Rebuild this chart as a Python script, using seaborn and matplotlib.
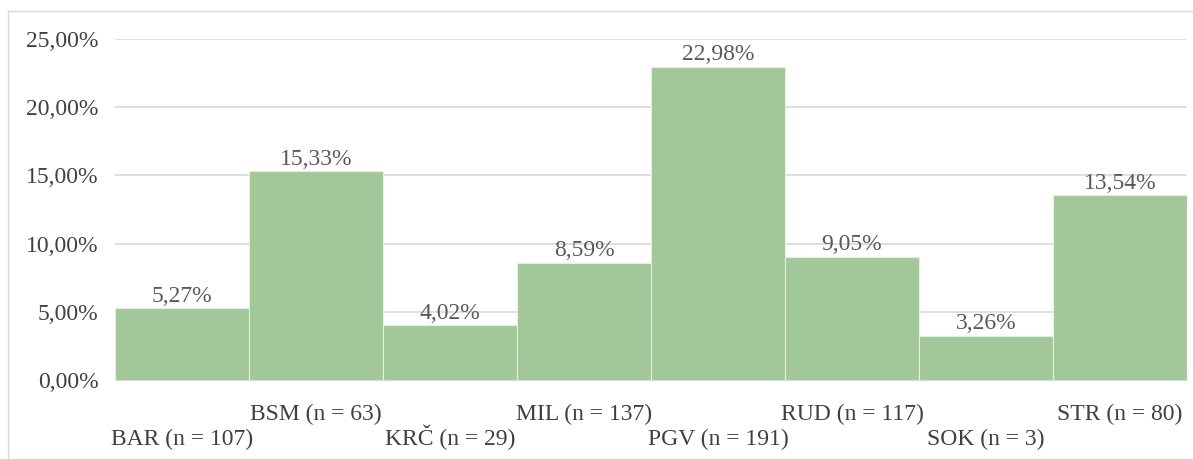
import pandas as pd
import matplotlib.pyplot as plt
import seaborn as sns
from matplotlib.patches import Rectangle

# データ
categories = ['BAR (n = 107)', 'BSM (n = 63)', 'KRČ (n = 29)', 'MIL (n = 137)',
              'PGV (n = 191)', 'RUD (n = 117)', 'SOK (n = 3)', 'STR (n = 80)']
percent = [5.27, 15.33, 4.02, 8.59, 22.98, 9.05, 3.26, 13.54]

df = pd.DataFrame({'cat': categories, 'pct': percent})

sns.set_style('white')
plt.rcParams['font.family'] = ['Liberation Serif', 'DejaVu Serif']
tick_col = '#404040'
val_col = '#595959'
fs = 17

fig = plt.figure(figsize=(11.93, 4.59), dpi=100)
ax = fig.add_axes([115 / 1193, 1 - 380 / 459, (1187 - 115) / 1193, (380 - 39) / 459])

# 外枠
fig.patches.append(Rectangle((8 / 1193, -0.1), 1.2, 1 - 11 / 459 + 0.1,
                             transform=fig.transFigure, fill=False,
                             edgecolor='#d9d9d9', linewidth=1.0))

sns.barplot(data=df, x='cat', y='pct', color='#a2c799', width=1.0,
            edgecolor='#e6f0e2', linewidth=0.8, saturation=1, ax=ax)

ax.set_ylim(0, 25)
ax.set_xlim(-0.5, len(categories) - 0.5)
ax.set_yticks([0, 5, 10, 15, 20, 25])
ax.set_yticklabels([f'{v:.2f}%'.replace('.', ',') for v in [0, 5, 10, 15, 20, 25]])
ax.grid(axis='y', color='#d9d9d9', linewidth=1.2)
ax.set_axisbelow(True)
for s in ['left', 'right', 'top']:
    ax.spines[s].set_visible(False)
ax.spines['bottom'].set_color('#d9d9d9')
ax.set_xlabel('')
ax.set_ylabel('')
ax.tick_params(axis='y', length=0, pad=12, labelsize=fs, labelcolor=tick_col)
ax.tick_params(axis='x', length=0, labelsize=fs, labelcolor=tick_col)

# ラベルを2段に配置 (ベースライン基準)
for i, t in enumerate(ax.xaxis.get_major_ticks()):
    t.set_pad(47 if i % 2 == 0 else 29)
    t.label1.set_verticalalignment('baseline')

ax.bar_label(ax.containers[0], labels=[f'{v:.2f}%'.replace('.', ',') for v in percent],
             padding=1, fontsize=fs, color=val_col)

fig.savefig('out.png', dpi=100)
